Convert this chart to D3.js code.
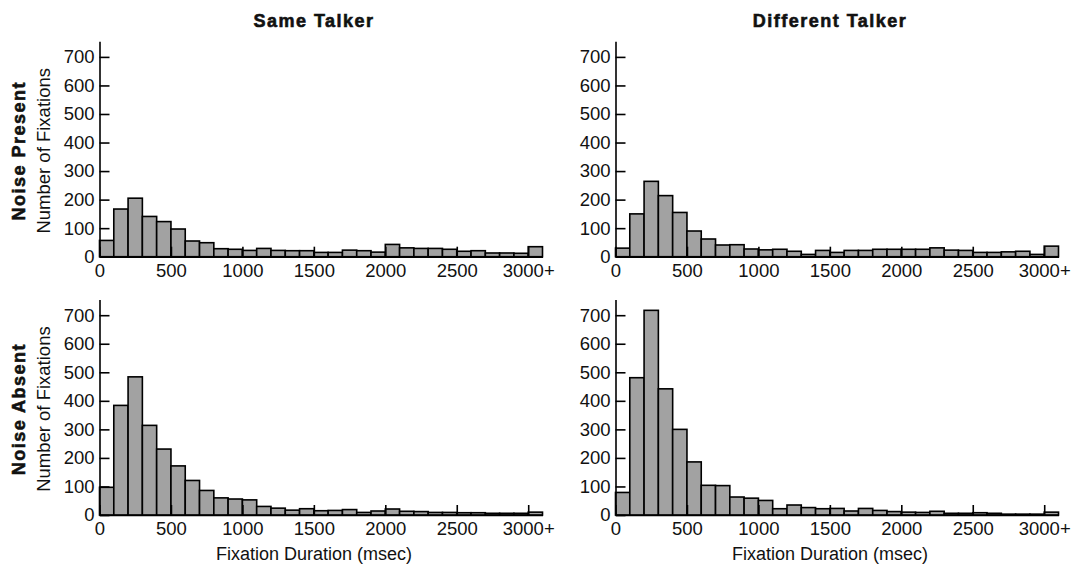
<!DOCTYPE html>
<html lang="en">
<head>
    <meta charset="UTF-8">
    <title>Fixation Durations</title>
    <style>
        * {
            margin: 0;
            padding: 0;
        }

        body {
            background: #ffffff;
        }

        #container {
            width: 1073px;
            height: 568px;
        }

        text {
            font-family: "Liberation Sans", Arial, Helvetica, sans-serif;
            fill: #111111;
        }
    </style>
</head>
<body>

<div id="container"></div>

<script src="https://cdnjs.cloudflare.com/ajax/libs/d3/7.8.5/d3.min.js"></script>

<script type="application/javascript">
    "use strict";

    // bins are 100 msec wide, the last one collects everything from 3000 on
    var binStarts = [0, 100, 200, 300, 400, 500, 600, 700, 800, 900,
        1000, 1100, 1200, 1300, 1400, 1500, 1600, 1700, 1800, 1900,
        2000, 2100, 2200, 2300, 2400, 2500, 2600, 2700, 2800, 2900, 3000];

    var samePresent = [57, 167, 205, 141, 123, 97, 55, 49, 28, 26,
        22, 29, 22, 21, 21, 15, 15, 23, 21, 16,
        43, 31, 29, 29, 26, 19, 21, 13, 13, 12, 35];

    var diffPresent = [30, 150, 264, 214, 155, 90, 62, 41, 42, 27,
        24, 26, 19, 8, 22, 15, 22, 22, 26, 26,
        26, 26, 31, 23, 22, 15, 15, 17, 19, 8, 37];

    var sameAbsent = [97, 384, 484, 314, 231, 172, 121, 86, 60, 56,
        53, 30, 24, 17, 22, 15, 16, 19, 9, 14,
        21, 13, 12, 9, 9, 8, 8, 6, 6, 6, 10];

    var diffAbsent = [79, 481, 717, 442, 300, 186, 104, 103, 63, 59,
        51, 22, 35, 26, 22, 23, 14, 23, 16, 12,
        10, 9, 13, 6, 6, 8, 6, 3, 3, 3, 10];

    var yTicks = [0, 100, 200, 300, 400, 500, 600, 700];
    var xTicks = [0, 500, 1000, 1500, 2000, 2500, 3000];

    var columnTitles = ['Same Talker', 'Different Talker'];
    var rowTitles = ['Noise Present', 'Noise Absent'];
    var yTitle = 'Number of Fixations';
    var xTitle = 'Fixation Duration (msec)';

    var settings = {
        width: 1073,
        height: 568,
        colX: [99.5, 615.5],       // y axis position of each column
        rowBase: [256.7, 515],     // baseline of each row
        plotWidth: 443,
        plotHeight: 215.5,         // from baseline up to the top of the y axis
        barFill: '#a2a2a2'
    };

    var panels = [
        { row: 0, col: 0, values: samePresent },
        { row: 0, col: 1, values: diffPresent },
        { row: 1, col: 0, values: sameAbsent },
        { row: 1, col: 1, values: diffAbsent }
    ];

    var svg = d3.select('#container')
        .append('svg')
        .attr('width', settings.width)
        .attr('height', settings.height);

    var x = d3.scaleLinear()
        .domain([0, 3100])
        .range([0, settings.plotWidth]);

    var y = d3.scaleLinear()
        .domain([0, 755])
        .range([0, -settings.plotHeight]);

    panels.forEach(function (p) {

        var g = svg.append('g')
            .attr('transform', 'translate(' + settings.colX[p.col] + ',' + settings.rowBase[p.row] + ')');

        // bars
        g.selectAll('rect.bar')
            .data(p.values)
            .enter()
            .append('rect')
            .attr('class', 'bar')
            .attr('x', function (d, i) { return x(binStarts[i]); })
            .attr('width', function (d, i) { return x(binStarts[i] + 100) - x(binStarts[i]); })
            .attr('y', function (d) { return y(d); })
            .attr('height', function (d) { return y(0) - y(d); })
            .attr('fill', settings.barFill)
            .attr('stroke', '#000')
            .attr('stroke-width', 1.6);

        // y axis, ticks point inward
        var yAxis = g.append('g')
            .call(d3.axisLeft(y)
                .tickValues(yTicks)
                .tickSizeInner(-10)
                .tickSizeOuter(0)
                .tickPadding(5));

        // x axis, ticks point up into the plot
        var xAxis = g.append('g')
            .call(d3.axisBottom(x)
                .tickValues(xTicks)
                .tickSizeInner(-10)
                .tickSizeOuter(0)
                .tickPadding(7)
                .tickFormat(function (d) { return d === 3000 ? '3000+' : d; }));

        [yAxis, xAxis].forEach(function (ax) {
            ax.select('.domain').attr('stroke', '#000').attr('stroke-width', 1.6);
            ax.selectAll('.tick line').attr('stroke', '#000').attr('stroke-width', 1.6);
            ax.selectAll('text')
                .attr('font-family', '"Liberation Sans", Arial, sans-serif')
                .attr('font-size', 18.5)
                .attr('fill', '#111');
        });

        var midY = (y(0) + y(700)) / 2 - 6;

        // y axis title and row title, left column only
        if (p.col === 0) {
            g.append('text')
                .attr('transform', 'translate(-50,' + midY + ') rotate(-90)')
                .attr('text-anchor', 'middle')
                .attr('font-size', 18.5)
                .text(yTitle);

            g.append('text')
                .attr('transform', 'translate(-74.5,' + midY + ') rotate(-90)')
                .attr('text-anchor', 'middle')
                .attr('font-size', 18)
                .attr('font-weight', 700)
                .attr('letter-spacing', 1.5)
                .attr('stroke', '#111')
                .attr('stroke-width', 0.6)
                .text(rowTitles[p.row]);
        }

        // column title, top row only
        if (p.row === 0) {
            g.append('text')
                .attr('x', 214.5)
                .attr('y', 26.7 - settings.rowBase[0])
                .attr('text-anchor', 'middle')
                .attr('font-size', 18)
                .attr('font-weight', 700)
                .attr('letter-spacing', 1.5)
                .attr('stroke', '#111')
                .attr('stroke-width', 0.6)
                .text(columnTitles[p.col]);
        }

        // x axis title, bottom row only
        if (p.row === 1) {
            g.append('text')
                .attr('x', 214.5)
                .attr('y', 45)
                .attr('text-anchor', 'middle')
                .attr('font-size', 18)
                .text(xTitle);
        }
    });
</script>
</body>
</html>
